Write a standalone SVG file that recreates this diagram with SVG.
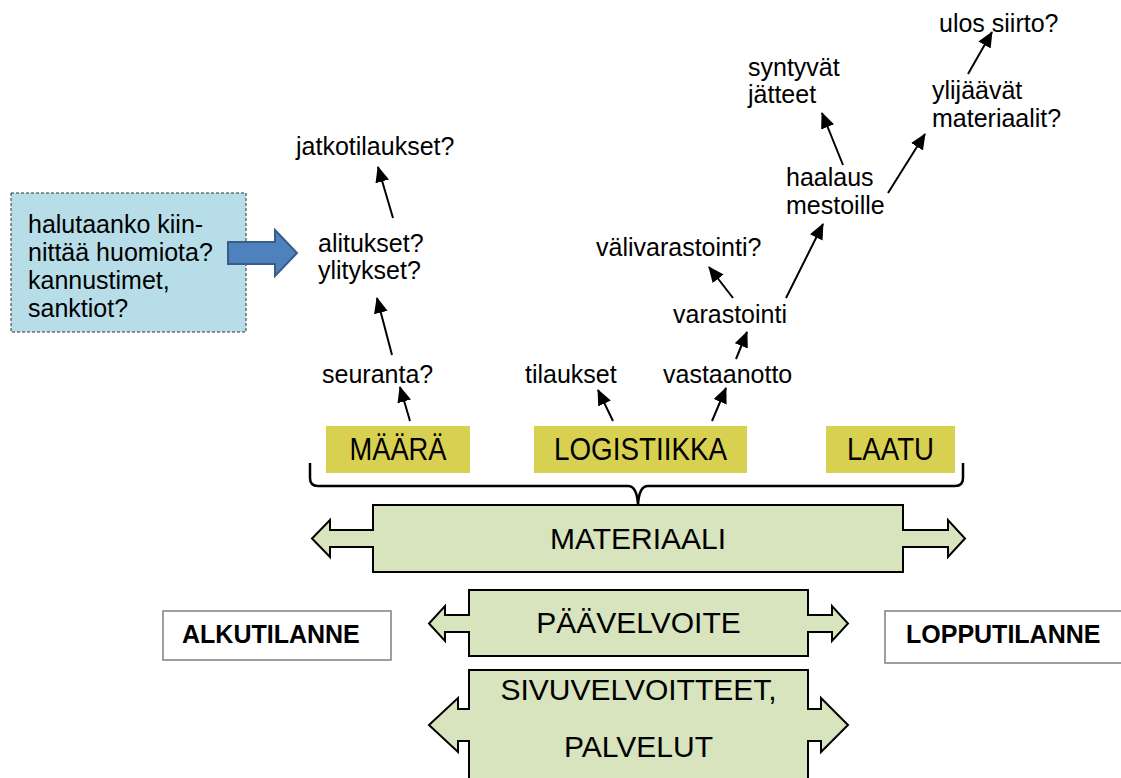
<svg xmlns="http://www.w3.org/2000/svg" width="1121" height="778" viewBox="0 0 1121 778">
  <defs>
    <marker id="ah" viewBox="0 0 16 14" refX="15" refY="7" markerWidth="16" markerHeight="14" orient="auto" markerUnits="userSpaceOnUse">
      <path d="M0,0 L16,7 L0,14 z" fill="#000"/>
    </marker>
    <style>
      text { font-family: "Liberation Sans", Arial, sans-serif; fill: #000; }
      .lbl { font-size: 25px; }
      .cat { font-size: 31px; text-anchor: middle; }
      .big { font-size: 30px; text-anchor: middle; }
      .state { font-size: 25px; font-weight: bold; }
      .yel { fill: #d8d050; }
      .band { fill: #d7e4bd; stroke: #000; stroke-width: 2; stroke-linejoin: miter; }
      .plain { fill: #fff; stroke: #7f7f7f; stroke-width: 1.5; }
      .conn line { stroke: #000; stroke-width: 2; marker-end: url(#ah); }
    </style>
  </defs>
  <rect width="1121" height="778" fill="#fff"/>

  <!-- note box with block arrow -->
  <g id="note">
    <rect x="11" y="193" width="235" height="139" fill="#b7dee8" stroke="#333" stroke-width="1" stroke-dasharray="3,2"/>
    <text class="lbl" x="28" y="233">halutaanko kiin-</text>
    <text class="lbl" x="28" y="261">nittää huomiota?</text>
    <text class="lbl" x="28" y="289">kannustimet,</text>
    <text class="lbl" x="28" y="317">sanktiot?</text>
  </g>
  <g id="note-arrow">
    <path d="M228,242 H275 V230 L297,253 L275,276 V264 H228 Z" fill="#4f81bd" stroke="#385d8a" stroke-width="2"/>
  </g>

  <!-- question labels -->
  <g id="jatkotilaukset"><text class="lbl" x="296" y="155">jatkotilaukset?</text></g>
  <g id="alitukset"><text class="lbl" x="318" y="252">alitukset?</text></g>
  <g id="ylitykset"><text class="lbl" x="318" y="279">ylitykset?</text></g>
  <g id="seuranta"><text class="lbl" x="322" y="383">seuranta?</text></g>
  <g id="tilaukset"><text class="lbl" x="525" y="383">tilaukset</text></g>
  <g id="vastaanotto"><text class="lbl" x="663" y="383">vastaanotto</text></g>
  <g id="varastointi"><text class="lbl" x="673" y="323">varastointi</text></g>
  <g id="valivarastointi"><text class="lbl" x="596" y="256">välivarastointi?</text></g>
  <g id="haalaus">
    <text class="lbl" x="786" y="186">haalaus</text>
    <text class="lbl" x="786" y="214">mestoille</text>
  </g>
  <g id="jatteet">
    <text class="lbl" x="748" y="76">syntyvät</text>
    <text class="lbl" x="748" y="103">jätteet</text>
  </g>
  <g id="ylijaavat">
    <text class="lbl" x="932" y="99">ylijäävät</text>
    <text class="lbl" x="932" y="127">materiaalit?</text>
  </g>
  <g id="ulos"><text class="lbl" x="939" y="32">ulos siirto?</text></g>

  <!-- category tags (condensed caps) -->
  <g id="maara">
    <rect class="yel" x="326" y="426" width="144" height="47"/>
    <text class="cat" x="398" y="460" textLength="97" lengthAdjust="spacingAndGlyphs">MÄÄRÄ</text>
  </g>
  <g id="logistiikka">
    <rect class="yel" x="534" y="426" width="213" height="47"/>
    <text class="cat" x="640.5" y="460" textLength="173" lengthAdjust="spacingAndGlyphs">LOGISTIIKKA</text>
  </g>
  <g id="laatu">
    <rect class="yel" x="826" y="426" width="129" height="47"/>
    <text class="cat" x="890.5" y="460" textLength="87" lengthAdjust="spacingAndGlyphs">LAATU</text>
  </g>

  <!-- brace grouping the categories -->
  <g id="brace">
    <path d="M310,463 V478 Q310,486 318,486 H628 Q637,486 638,505 Q639,486 648,486 H955 Q963,486 963,478 V463" fill="none" stroke="#000" stroke-width="2.5"/>
  </g>

  <!-- double-headed bands -->
  <g id="materiaali">
    <path class="band" d="M373,505 H903 V530 H948 V520 L965,538.5 L948,557 V547 H903 V572 H373 V547 H330 V557 L312,538.5 L330,520 V530 H373 Z"/>
    <text class="big" x="638" y="549">MATERIAALI</text>
  </g>
  <g id="paavelvoite">
    <path class="band" d="M469,590 H808 V615 H832 V606 L848,623.5 L832,641 V632 H808 V656 H469 V632 H445 V641 L429,623.5 L445,606 V615 H469 Z"/>
    <text class="big" x="638.5" y="633">PÄÄVELVOITE</text>
  </g>
  <g id="sivuvelvoitteet">
    <path class="band" d="M469,670 H808 V709 H821 V698 L848,725 L821,752 V741 H808 V792 H469 V741 H458 V752 L429,725 L458,698 V709 H469 Z"/>
    <text class="big" x="638.5" y="700">SIVUVELVOITTEET,</text>
    <text class="big" x="638.5" y="757">PALVELUT</text>
  </g>

  <!-- start and end states -->
  <g id="alkutilanne">
    <rect class="plain" x="163" y="611" width="228" height="49"/>
    <text class="state" x="182" y="643">ALKUTILANNE</text>
  </g>
  <g id="lopputilanne">
    <rect class="plain" x="885" y="611" width="245" height="52"/>
    <text class="state" x="906" y="643">LOPPUTILANNE</text>
  </g>

  <!-- connectors -->
  <g id="connectors" class="conn">
    <line x1="393" y1="218" x2="378" y2="167"/>
    <line x1="392" y1="355" x2="377" y2="298"/>
    <line x1="410" y1="421" x2="400" y2="387"/>
    <line x1="613" y1="421" x2="598" y2="390"/>
    <line x1="712" y1="421" x2="726" y2="388"/>
    <line x1="736" y1="359" x2="747" y2="332"/>
    <line x1="733" y1="298" x2="709" y2="267"/>
    <line x1="786" y1="298" x2="823" y2="224"/>
    <line x1="843" y1="165" x2="822" y2="113"/>
    <line x1="888" y1="193" x2="925" y2="134"/>
    <line x1="968" y1="74" x2="992" y2="32"/>
  </g>
</svg>
